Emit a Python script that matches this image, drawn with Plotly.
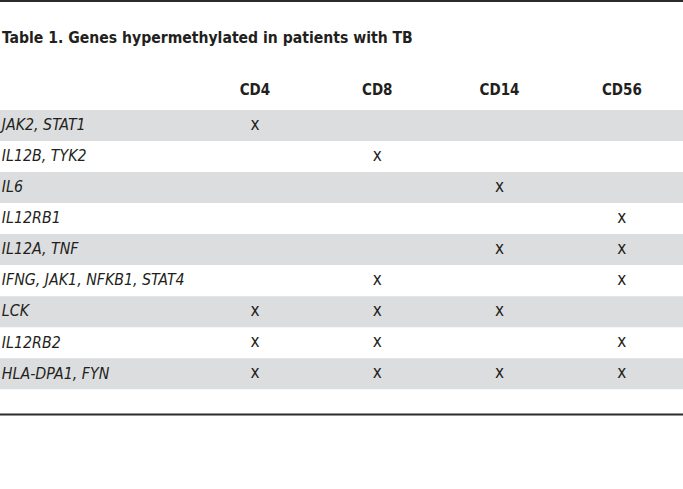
import plotly.graph_objects as go

title = "Table 1. Genes hypermethylated in patients with TB"
columns = ["CD4", "CD8", "CD14", "CD56"]
genes = [
    "JAK2, STAT1",
    "IL12B, TYK2",
    "IL6",
    "IL12RB1",
    "IL12A, TNF",
    "IFNG, JAK1, NFKB1, STAT4",
    "LCK",
    "IL12RB2",
    "HLA-DPA1, FYN",
]
# 1 = hypermethylated (marked "x")
cd4 = [1, 0, 0, 0, 0, 0, 1, 1, 1]
cd8 = [0, 1, 0, 0, 0, 1, 1, 1, 1]
cd14 = [0, 0, 1, 0, 1, 0, 1, 0, 1]
cd56 = [0, 0, 0, 1, 1, 1, 0, 1, 1]
marks = [cd4, cd8, cd14, cd56]

TXT = "#231f20"
BAND = "#dcdddf"
FONT = "DejaVu Sans Condensed, DejaVu Sans, sans-serif"

fig = go.Figure()

shapes = []
for i in range(len(genes)):
    if i % 2 == 0:
        shapes.append(dict(type="rect", xref="paper", yref="y", x0=0, x1=1,
                           y0=i - 0.5, y1=i + 0.5, fillcolor=BAND, line_width=0, layer="below"))
shapes.append(dict(type="line", xref="paper", yref="paper", x0=0, x1=1, y0=0.998, y1=0.998,
                   line=dict(color="#2b2b2b", width=2)))
shapes.append(dict(type="line", xref="paper", yref="y", x0=0, x1=1,
                   y0=len(genes) - 0.5 + 0.82, y1=len(genes) - 0.5 + 0.82,
                   line=dict(color="#2b2b2b", width=2)))

fig.add_trace(go.Scatter(
    x=[-1.07] * len(genes), y=[g + 0.03 for g in range(len(genes))], mode="text",
    text=genes, textposition="middle right",
    textfont=dict(family=FONT, size=15.8, color=TXT, style="italic"),
    hoverinfo="skip", showlegend=False))

fig.add_trace(go.Scatter(
    x=list(range(1, len(columns) + 1)), y=[-1.12] * len(columns), mode="text",
    text=columns, textposition="middle center",
    textfont=dict(family=FONT, size=15, color=TXT, weight="bold"),
    hoverinfo="skip", showlegend=False))

xs, ys = [], []
for ci, col in enumerate(marks):
    for ri, v in enumerate(col):
        if v:
            xs.append(ci + 1)
            ys.append(ri)
fig.add_trace(go.Scatter(
    x=xs, y=ys, mode="text", text=["x"] * len(xs), textposition="middle center",
    textfont=dict(family=FONT, size=17, color=TXT),
    hoverinfo="skip", showlegend=False))

fig.update_layout(
    width=683, height=489,
    margin=dict(l=0, r=0, t=0, b=0),
    paper_bgcolor="white", plot_bgcolor="white",
    xaxis=dict(range=[-1.085, 4.5], visible=False, fixedrange=True),
    yaxis=dict(range=[11.72, -4.05], visible=False, fixedrange=True),
    shapes=shapes,
    annotations=[dict(text="<b>" + title + "</b>", xref="paper", yref="y", x=0.0, y=-2.82,
                      xanchor="left", yanchor="middle", showarrow=False,
                      font=dict(family=FONT, size=15.6, color=TXT))],
)

fig.write_html("out.html", config={"displayModeBar": False},
               post_script="document.body.style.margin='0';document.body.style.overflow='hidden';")
